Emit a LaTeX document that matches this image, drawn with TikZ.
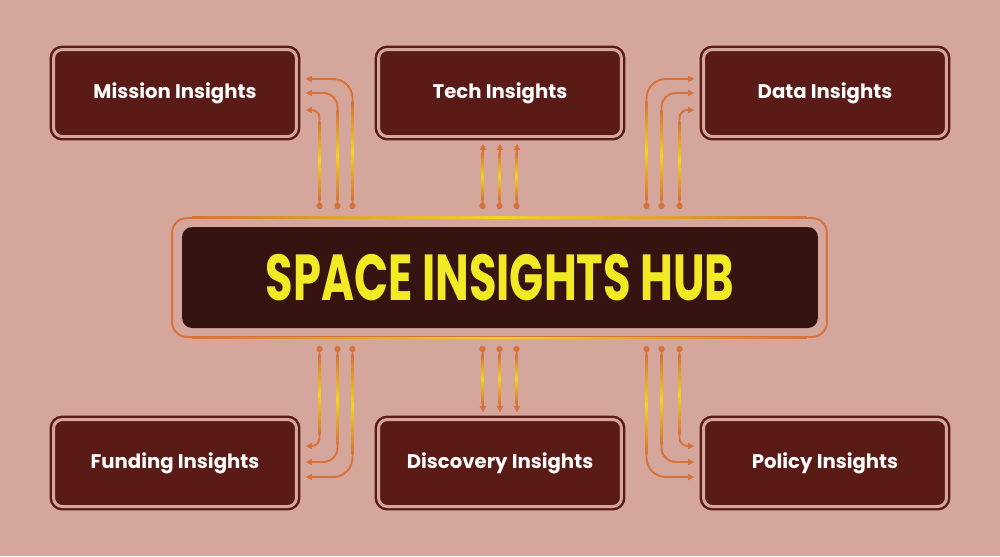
\documentclass[tikz,border=0pt]{standalone}
\usepackage{fontspec}
\setmainfont{Poppins}
\usetikzlibrary{arrows.meta,calc}
\definecolor{bgpink}{RGB}{213,166,156}
\definecolor{boxred}{RGB}{90,26,21}
\definecolor{hubdark}{RGB}{53,19,17}
\definecolor{wireor}{RGB}{214,114,58}
\definecolor{wireye}{RGB}{242,212,30}
\definecolor{hubtext}{RGB}{242,234,36}

\tikzset{
  insight/.style={draw=boxred, double=bgpink, double distance=1.7pt, line width=1.4pt,
    fill=boxred, rounded corners=5pt, minimum width=4.86cm, minimum height=1.74cm,
    text=white, font=\bfseries\fontsize{11.2}{13}\selectfont},
  hubframe/.style={draw=wireor, line width=1.1pt, rounded corners=8.5pt,
    minimum width=13.1cm, minimum height=2.38cm},
  hubbox/.style={fill=hubdark, rounded corners=5.7pt, minimum width=12.72cm,
    minimum height=2.02cm, text=hubtext, font=\bfseries\fontsize{37}{42}\selectfont},
  wire/.style={draw=wireor, line width=1.1pt,
    {Circle[length=3.5pt]}-{Triangle[length=3.5pt,width=3.5pt]}},
  glowv/.style={top color=wireor, bottom color=wireor, middle color=wireye},
  glowh/.style={left color=wireor, right color=wireor, middle color=wireye}
}

\begin{document}
\begin{tikzpicture}[x=0.02cm,y=-0.02cm]
  \fill[bgpink] (0,0) rectangle (1000,556);

  % centro
  \node[hubframe] (frame) at (499.5,277.5) {};
  \shade[glowh] let \p1=(frame.north west), \p2=(frame.north east) in
    (\x1+12pt,\y1-0.55pt) rectangle (\x2-12pt,\y1+0.55pt);
  \shade[glowh] let \p1=(frame.south west), \p2=(frame.south east) in
    (\x1+12pt,\y1-0.55pt) rectangle (\x2-12pt,\y1+0.55pt);
  \node[hubbox] (hub) at (500,277.5) {\scalebox{0.69}[1]{SPACE INSIGHTS HUB}};

  % fila de arriba
  \node[insight] (mission) at (175,93) {Mission Insights};
  \node[insight] (tech) at (500,93) {Tech Insights};
  \node[insight] (data) at (825,93) {Data Insights};

  % fila de abajo
  \node[insight] (funding) at (175,463) {Funding Insights};
  \node[insight] (discovery) at (500,463) {Discovery Insights};
  \node[insight] (policy) at (825,463) {Policy Insights};

  % conectores arriba izquierda
  \foreach \dx/\dy/\r in {-180/17/4.5pt, -162/0/8pt, -147/-14/11pt}{
    \draw[wire, rounded corners=\r] ($(frame.north)+(\dx,-8)$) coordinate (s)
      |- ($(mission.east)+(8,\dy)$) coordinate (e);
    \shade[glowv] let \p1=(s), \p2=(e) in
      (\x1-0.55pt,\y1+5pt) rectangle (\x1+0.55pt,\y2-\r-2pt);
  }
  % conectores arriba centro
  \foreach \dx in {-17,0,17}{
    \draw[wire] ($(frame.north)+(\dx,-8)$) coordinate (s)
      -- ($(tech.south)+(\dx,6)$) coordinate (e);
    \shade[glowv] let \p1=(s), \p2=(e) in
      (\x1-0.55pt,\y1+5pt) rectangle (\x1+0.55pt,\y2-5pt);
  }
  % conectores arriba derecha
  \foreach \dx/\dy/\r in {180/17/4.5pt, 162/0/8pt, 147/-14/11pt}{
    \draw[wire, rounded corners=\r] ($(frame.north)+(\dx,-8)$) coordinate (s)
      |- ($(data.west)+(-8,\dy)$) coordinate (e);
    \shade[glowv] let \p1=(s), \p2=(e) in
      (\x1-0.55pt,\y1+5pt) rectangle (\x1+0.55pt,\y2-\r-2pt);
  }

  % conectores abajo izquierda
  \foreach \dx/\dy/\r in {-180/-17/4.5pt, -162/-1/8pt, -147/14/11pt}{
    \draw[wire, rounded corners=\r] ($(frame.south)+(\dx,8)$) coordinate (s)
      |- ($(funding.east)+(8,\dy)$) coordinate (e);
    \shade[glowv] let \p1=(s), \p2=(e) in
      (\x1-0.55pt,\y1-5pt) rectangle (\x1+0.55pt,\y2+\r+2pt);
  }
  % conectores abajo centro
  \foreach \dx in {-17,0,17}{
    \draw[wire] ($(frame.south)+(\dx,8)$) coordinate (s)
      -- ($(discovery.north)+(\dx,-6)$) coordinate (e);
    \shade[glowv] let \p1=(s), \p2=(e) in
      (\x1-0.55pt,\y1-5pt) rectangle (\x1+0.55pt,\y2+5pt);
  }
  % conectores abajo derecha
  \foreach \dx/\dy/\r in {180/-17/4.5pt, 162/-1/8pt, 147/14/11pt}{
    \draw[wire, rounded corners=\r] ($(frame.south)+(\dx,8)$) coordinate (s)
      |- ($(policy.west)+(-8,\dy)$) coordinate (e);
    \shade[glowv] let \p1=(s), \p2=(e) in
      (\x1-0.55pt,\y1-5pt) rectangle (\x1+0.55pt,\y2+\r+2pt);
  }
\end{tikzpicture}
\end{document}
